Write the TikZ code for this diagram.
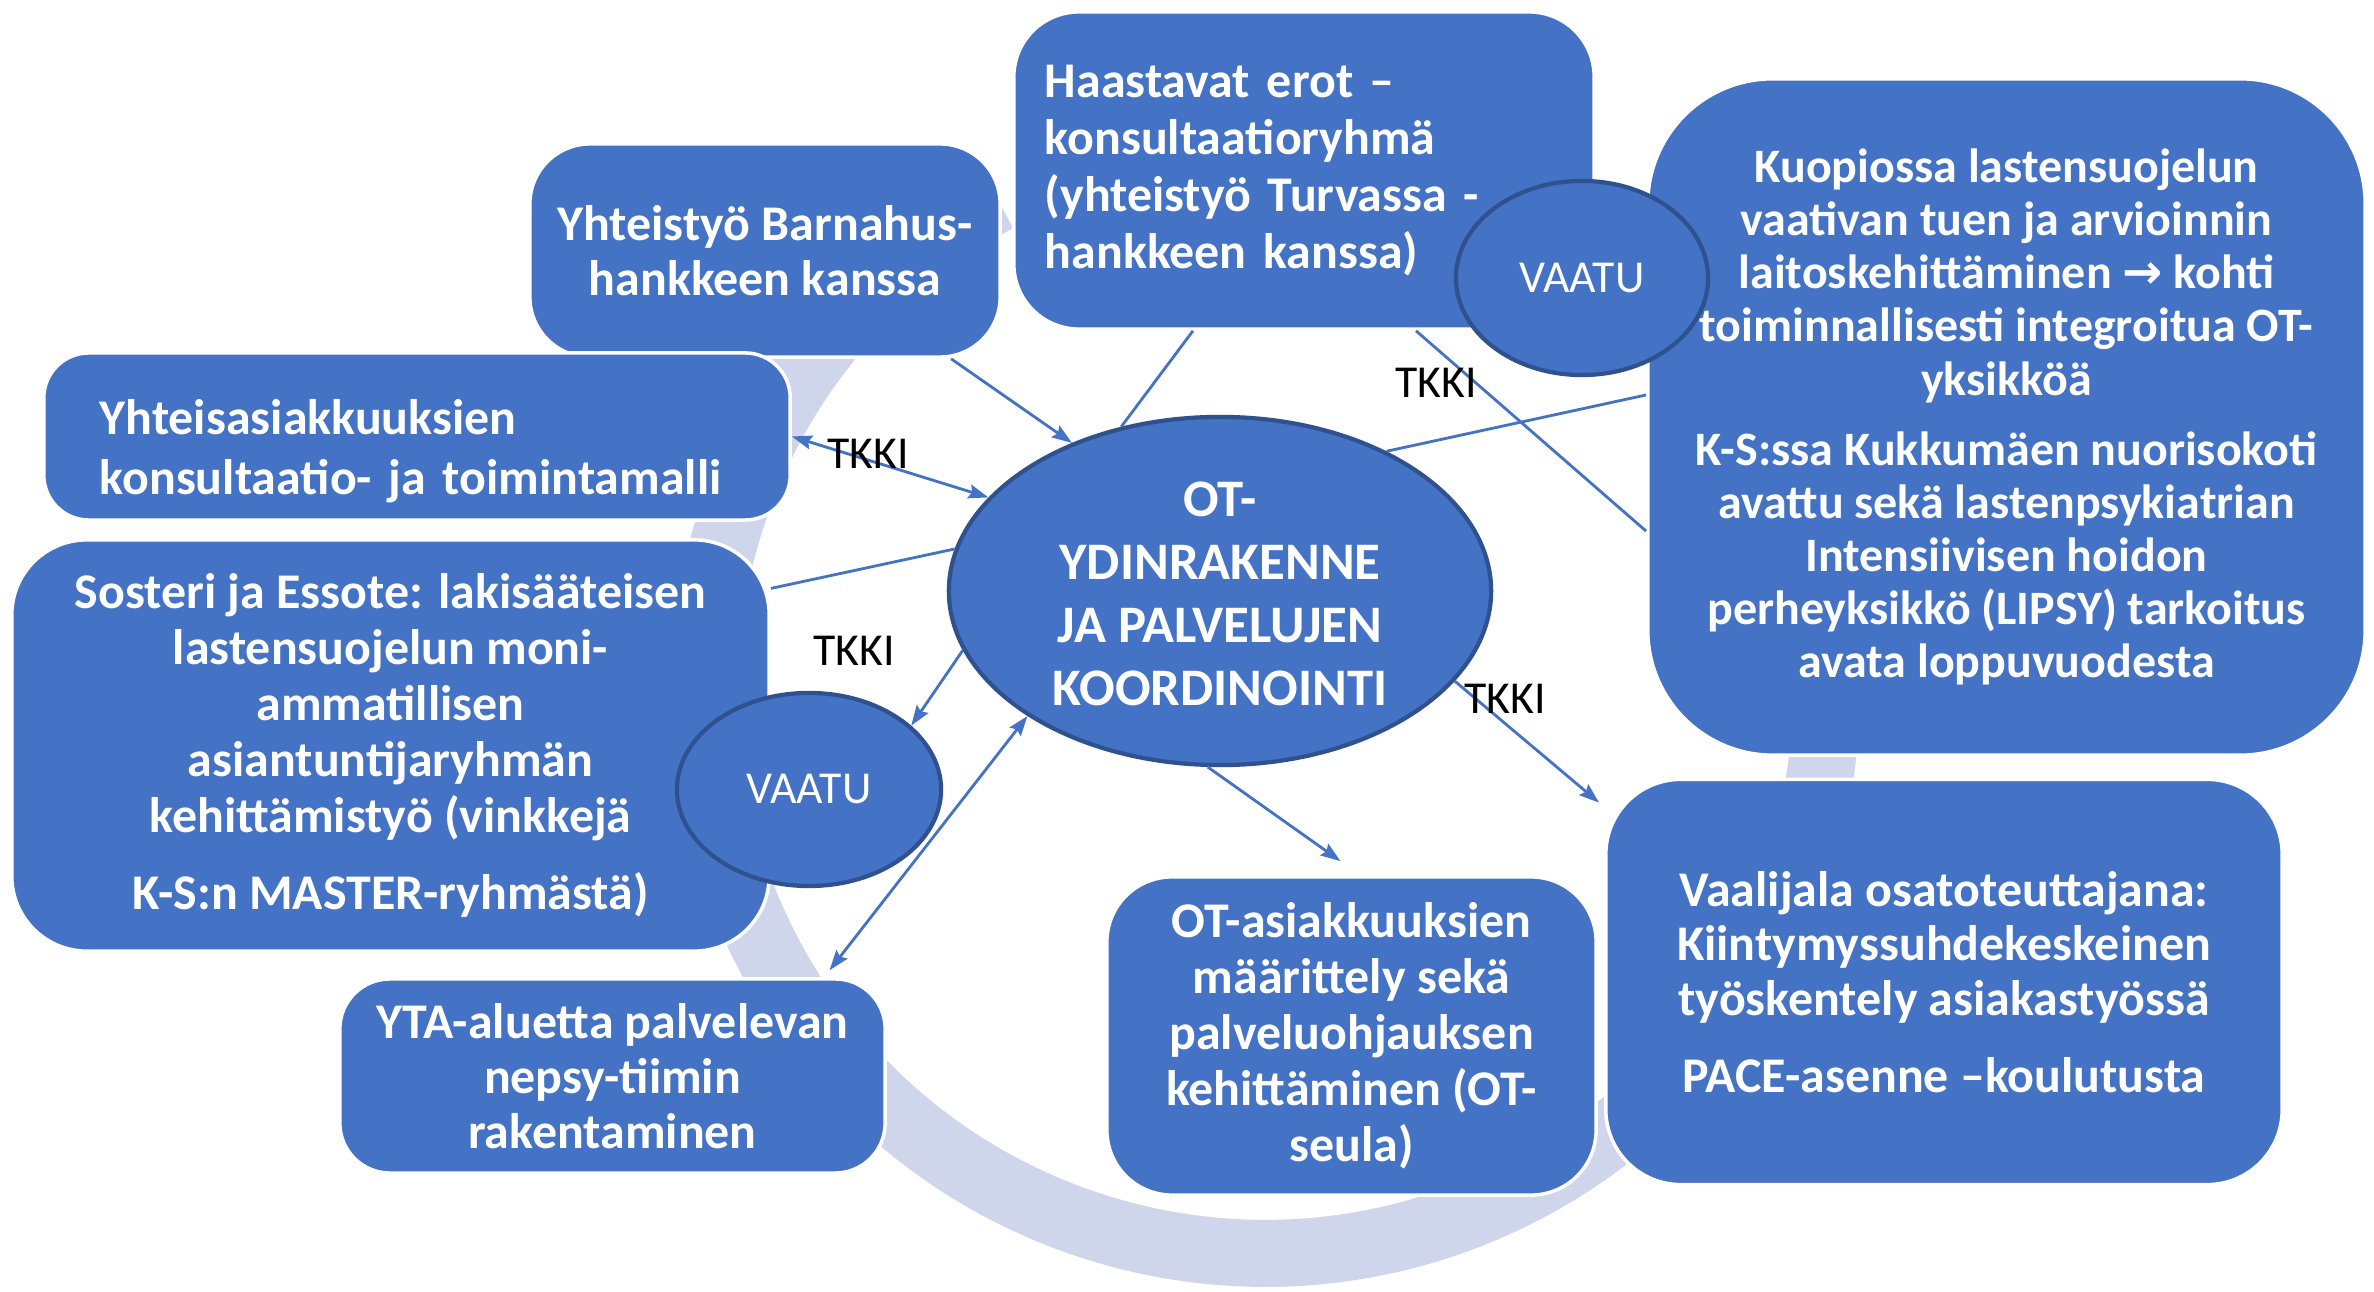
\documentclass[tikz,border=0pt]{standalone}
\usepackage{fontspec}
\setmainfont{Carlito}
\newfontfamily\arrowfont{DejaVu Sans}
\usetikzlibrary{shapes.geometric,arrows.meta}
\definecolor{boxblue}{HTML}{4472C4}
\definecolor{ringcol}{HTML}{CFD5EA}
\definecolor{edgeblue}{HTML}{2F528F}
\tikzset{
  card/.style={draw=white, line width=1pt, fill=boxblue, text=white, align=center, inner sep=0pt,
    font=\bfseries\fontsize{14.2pt}{15.7pt}\selectfont},
  linegap/.style={font=\bfseries\fontsize{14.2pt}{#1}\selectfont},
  cardtext/.style={text=white, inner sep=0pt},
  oval/.style={ellipse, draw=edgeblue, line width=1.2pt, fill=boxblue, text=white, inner sep=0pt},
  link/.style={draw=boxblue, line width=0.8pt},
  tip/.style={-{Stealth[length=0.2cm,width=0.14cm,inset=0.03cm]}},
  dbl/.style={{Stealth[length=0.2cm,width=0.14cm,inset=0.03cm]}-{Stealth[length=0.2cm,width=0.14cm,inset=0.03cm]}},
  lbl/.style={font=\fontsize{13pt}{14pt}\selectfont, text=black, inner sep=0pt},
  ovaltext/.style={font=\fontsize{13pt}{14pt}\selectfont, text=white, inner sep=0pt},
}
\begin{document}
\begin{tikzpicture}[x=0.01cm,y=-0.01cm]
\useasboundingbox (0,0) rectangle (2374,1292);
\fill[white] (0,0) rectangle (2374,1292);
% background ring (open at the top, ends hidden behind the boxes)
\coordinate (rc) at (1265,692);
\draw[ringcol, line width=0.67cm] ([shift={(118.5:5.61cm)}]rc) arc[start angle=118.5, end angle=460, radius=5.61cm];

% boxes
\node[card, linegap=15.6pt, minimum width=4.70cm, minimum height=2.13cm, rounded corners=0.6cm] (barn) at (765,250.5)
  {Yhteistyö Barnahus-\\hankkeen kanssa};
\node[card, minimum width=7.46cm, minimum height=1.67cm, rounded corners=0.45cm] (yht) at (417,436.5) {};
\node[cardtext, align=left, text width=6.34cm, font=\bfseries\fontsize{14.2pt}{17.1pt}\selectfont] (yhtt) at (417,451)
  {Yhteisasiakkuuksien\\konsultaatio- ja toimintamalli};
\node[card, linegap=15.9pt, minimum width=7.57cm, minimum height=4.11cm, rounded corners=0.75cm] (sos) at (390.5,745.5)
  {Sosteri ja Essote: lakisääteisen\\lastensuojelun moni-\\ammatillisen\\asiantuntijaryhmän\\kehittämistyö (vinkkejä\\[0.21cm]K-S:n MASTER-ryhmästä)};
\node[card, linegap=16.2pt, align=left, text width=5.18cm, inner xsep=0.31cm, minimum height=3.17cm, rounded corners=0.65cm] (haa) at (1304,170.5)
  {Haastavat erot –\\konsultaatioryhmä\\(yhteistyö Turvassa -\\hankkeen kanssa)};
\node[card, font=\bfseries\fontsize{13.65pt}{15.1pt}\selectfont, minimum width=7.17cm, minimum height=6.76cm, rounded corners=1.25cm] (kuo) at (2006.5,417)
  {Kuopiossa lastensuojelun\\vaativan tuen ja arvioinnin\\laitoskehittäminen {\arrowfont\bfseries →} kohti\\toiminnallisesti integroitua OT-\\yksikköä\\[0.17cm]K-S:ssa Kukkumäen nuorisokoti\\avattu sekä lastenpsykiatrian\\Intensiivisen hoidon\\perheyksikkö (LIPSY) tarkoitus\\avata loppuvuodesta};
\node[card, linegap=15.9pt, minimum width=4.89cm, minimum height=3.18cm, rounded corners=0.65cm] (ota) at (1351.5,1036)
  {OT-asiakkuuksien\\määrittely sekä\\palveluohjauksen\\kehittäminen (OT-\\seula)};
\node[card, linegap=15.6pt, minimum width=6.76cm, minimum height=4.05cm, rounded corners=0.75cm] (vaa) at (1944,982)
  {Vaalijala osatoteuttajana:\\Kiintymyssuhdekeskeinen\\työskentely asiakastyössä\\[0.22cm]PACE-asenne –koulutusta};
\node[card, linegap=15.6pt, minimum width=5.45cm, minimum height=1.94cm, rounded corners=0.5cm] (yta) at (612.5,1076)
  {YTA-aluetta palvelevan\\nepsy-tiimin\\rakentaminen};

% ellipses
\node[oval, minimum width=5.42cm, minimum height=3.48cm] (ot) at (1220,591) {};
\node[text=white, align=center, inner sep=0pt, font=\bfseries\fontsize{15pt}{17.9pt}\selectfont] (ottext) at (1220,594)
  {OT-\\YDINRAKENNE\\JA PALVELUJEN\\KOORDINOINTI};
\node[oval, minimum width=2.52cm, minimum height=1.94cm] (va1) at (1582,278) {};
\node[ovaltext] (va1text) at (va1) {VAATU};
\node[oval, minimum width=2.64cm, minimum height=1.93cm] (va2) at (809,789.5) {};
\node[ovaltext] (va2text) at (va2) {VAATU};

% connectors
\draw[link, tip] ([xshift=1.86cm]barn.south) -- (ot.135);
\draw[link, dbl] (yht.east) -- (ot.158);
\draw[link] ([xshift=-1.11cm]haa.south) -- (ot.121);
\draw[link] ([xshift=1.12cm]haa.south) -- ([yshift=-1.14cm]kuo.west);
\draw[link] (ot.40) -- ([yshift=0.22cm]kuo.west);
\draw[link] (ot.171) -- ([yshift=1.57cm]sos.east);
\draw[link, tip] (ot.193) -- (va2.32);
\draw[link, dbl] ([xshift=2.17cm,yshift=0.07cm]yta.north) -- (ot.213);
\draw[link, tip] (ot.266) -- ([xshift=-0.11cm,yshift=0.14cm]ota.north);
\draw[link, tip] (ot.339) -- ([xshift=-0.05cm,yshift=-0.25cm]vaa.north west);

% labels
\node[lbl] (t1) at (868,454) {TKKI};
\node[lbl] (t2) at (854,651) {TKKI};
\node[lbl] (t3) at (1436,383) {TKKI};
\node[lbl] (t4) at (1505,699) {TKKI};
\end{tikzpicture}
\end{document}
